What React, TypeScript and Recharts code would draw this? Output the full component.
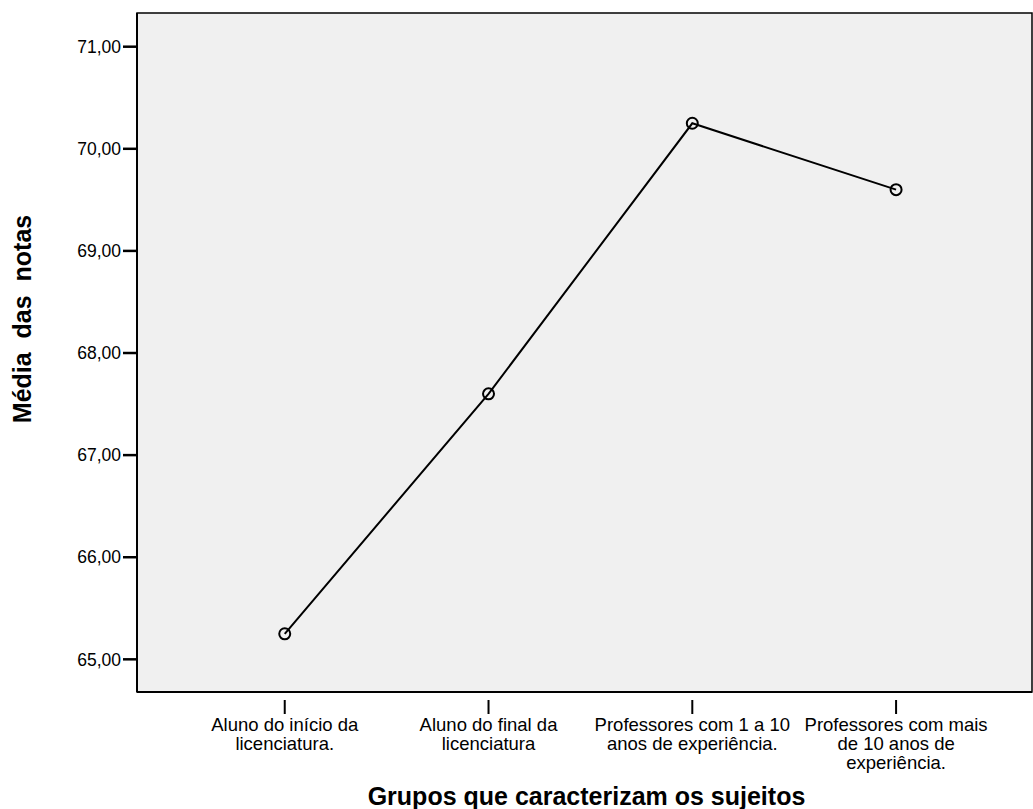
import React from 'react';
import { LineChart, Line, XAxis, YAxis, ReferenceArea, Label } from 'recharts';

const categories: string[][] = [
  ['Aluno do início da', 'licenciatura.'],
  ['Aluno do final da', 'licenciatura'],
  ['Professores com 1 a 10', 'anos de experiência.'],
  ['Professores com mais', 'de 10 anos de', 'experiência.'],
];
const means: number[] = [65.25, 67.6, 70.25, 69.6];
const yTicks: number[] = [65, 66, 67, 68, 69, 70, 71];
const xTicks: number[] = [0, 1, 2, 3];
const xTitle = 'Grupos que caracterizam os sujeitos';
const yTitle = 'Média  das  notas';

const data = means.map((v, i) => ({ x: i, y: v }));

const FONT = '"Liberation Sans", Arial, sans-serif';
const X_DOMAIN: [number, number] = [-0.725, 3.667];
const Y_DOMAIN: [number, number] = [64.68, 71.33];

const XTick = (props: any) => {
  const { x, y, payload } = props;
  const lines = categories[payload.value] || [];
  return (
    <g transform={`translate(${x},${y})`}>
      <line x1={0} y1={0} x2={0} y2={14} stroke="#000" strokeWidth={2} />
      {lines.map((l, i) => (
        <text key={i} x={0} y={31 + i * 19} textAnchor="middle" fontSize={18.5} fontFamily={FONT} fill="#000">
          {l}
        </text>
      ))}
    </g>
  );
};

const XTitle = (props: any) => {
  const vb = props.viewBox || {};
  const cx = vb.x + vb.width / 2 + 2;
  return (
    <text x={cx} y={805} textAnchor="middle" fontSize={25} fontWeight="bold" fontFamily={FONT} fill="#000">
      {xTitle}
    </text>
  );
};

const YTitle = () => {
  return (
    <text
      x={0}
      y={0}
      transform={`translate(31,319) rotate(-90)`}
      textAnchor="middle"
      fontSize={25}
      fontWeight="bold"
      fontFamily={FONT}
      fill="#000"
      xmlSpace="preserve"
      style={{ whiteSpace: 'pre' }}
    >
      {yTitle}
    </text>
  );
};

export default function App() {
  return (
    <div style={{ position: 'absolute', left: 0, top: 0, background: '#fff' }}>
      <LineChart width={1033} height={809} data={data} margin={{ top: 13, right: 1, bottom: 0, left: 0 }}>
        <ReferenceArea x1={X_DOMAIN[0]} x2={X_DOMAIN[1]} y1={Y_DOMAIN[0]} y2={Y_DOMAIN[1]} fill="#f0f0f0" fillOpacity={1} stroke="#000" strokeWidth={1.5} />
        <XAxis
          type="number"
          dataKey="x"
          domain={X_DOMAIN}
          ticks={xTicks}
          tick={<XTick />}
          tickLine={false}
          axisLine={{ stroke: '#000', strokeWidth: 2 }}
          height={117}
          allowDataOverflow
        >
          <Label content={<XTitle />} />
        </XAxis>
        <YAxis
          type="number"
          domain={Y_DOMAIN}
          ticks={yTicks}
          tickFormatter={(v: number) => v.toFixed(2).replace('.', ',')}
          tick={{ fontFamily: FONT, fontSize: 17.5, fill: '#000' }}
          tickLine={{ stroke: '#000', strokeWidth: 2.5 }}
          tickSize={14}
          tickMargin={2}
          axisLine={{ stroke: '#000', strokeWidth: 2 }}
          width={137}
          allowDataOverflow
        >
          <Label content={<YTitle />} />
        </YAxis>
        <Line
          type="linear"
          dataKey="y"
          stroke="#000"
          strokeWidth={2}
          isAnimationActive={false}
          dot={{ r: 5.5, stroke: '#000', strokeWidth: 2, fill: 'none' }}
          activeDot={false}
        />
      </LineChart>
    </div>
  );
}
